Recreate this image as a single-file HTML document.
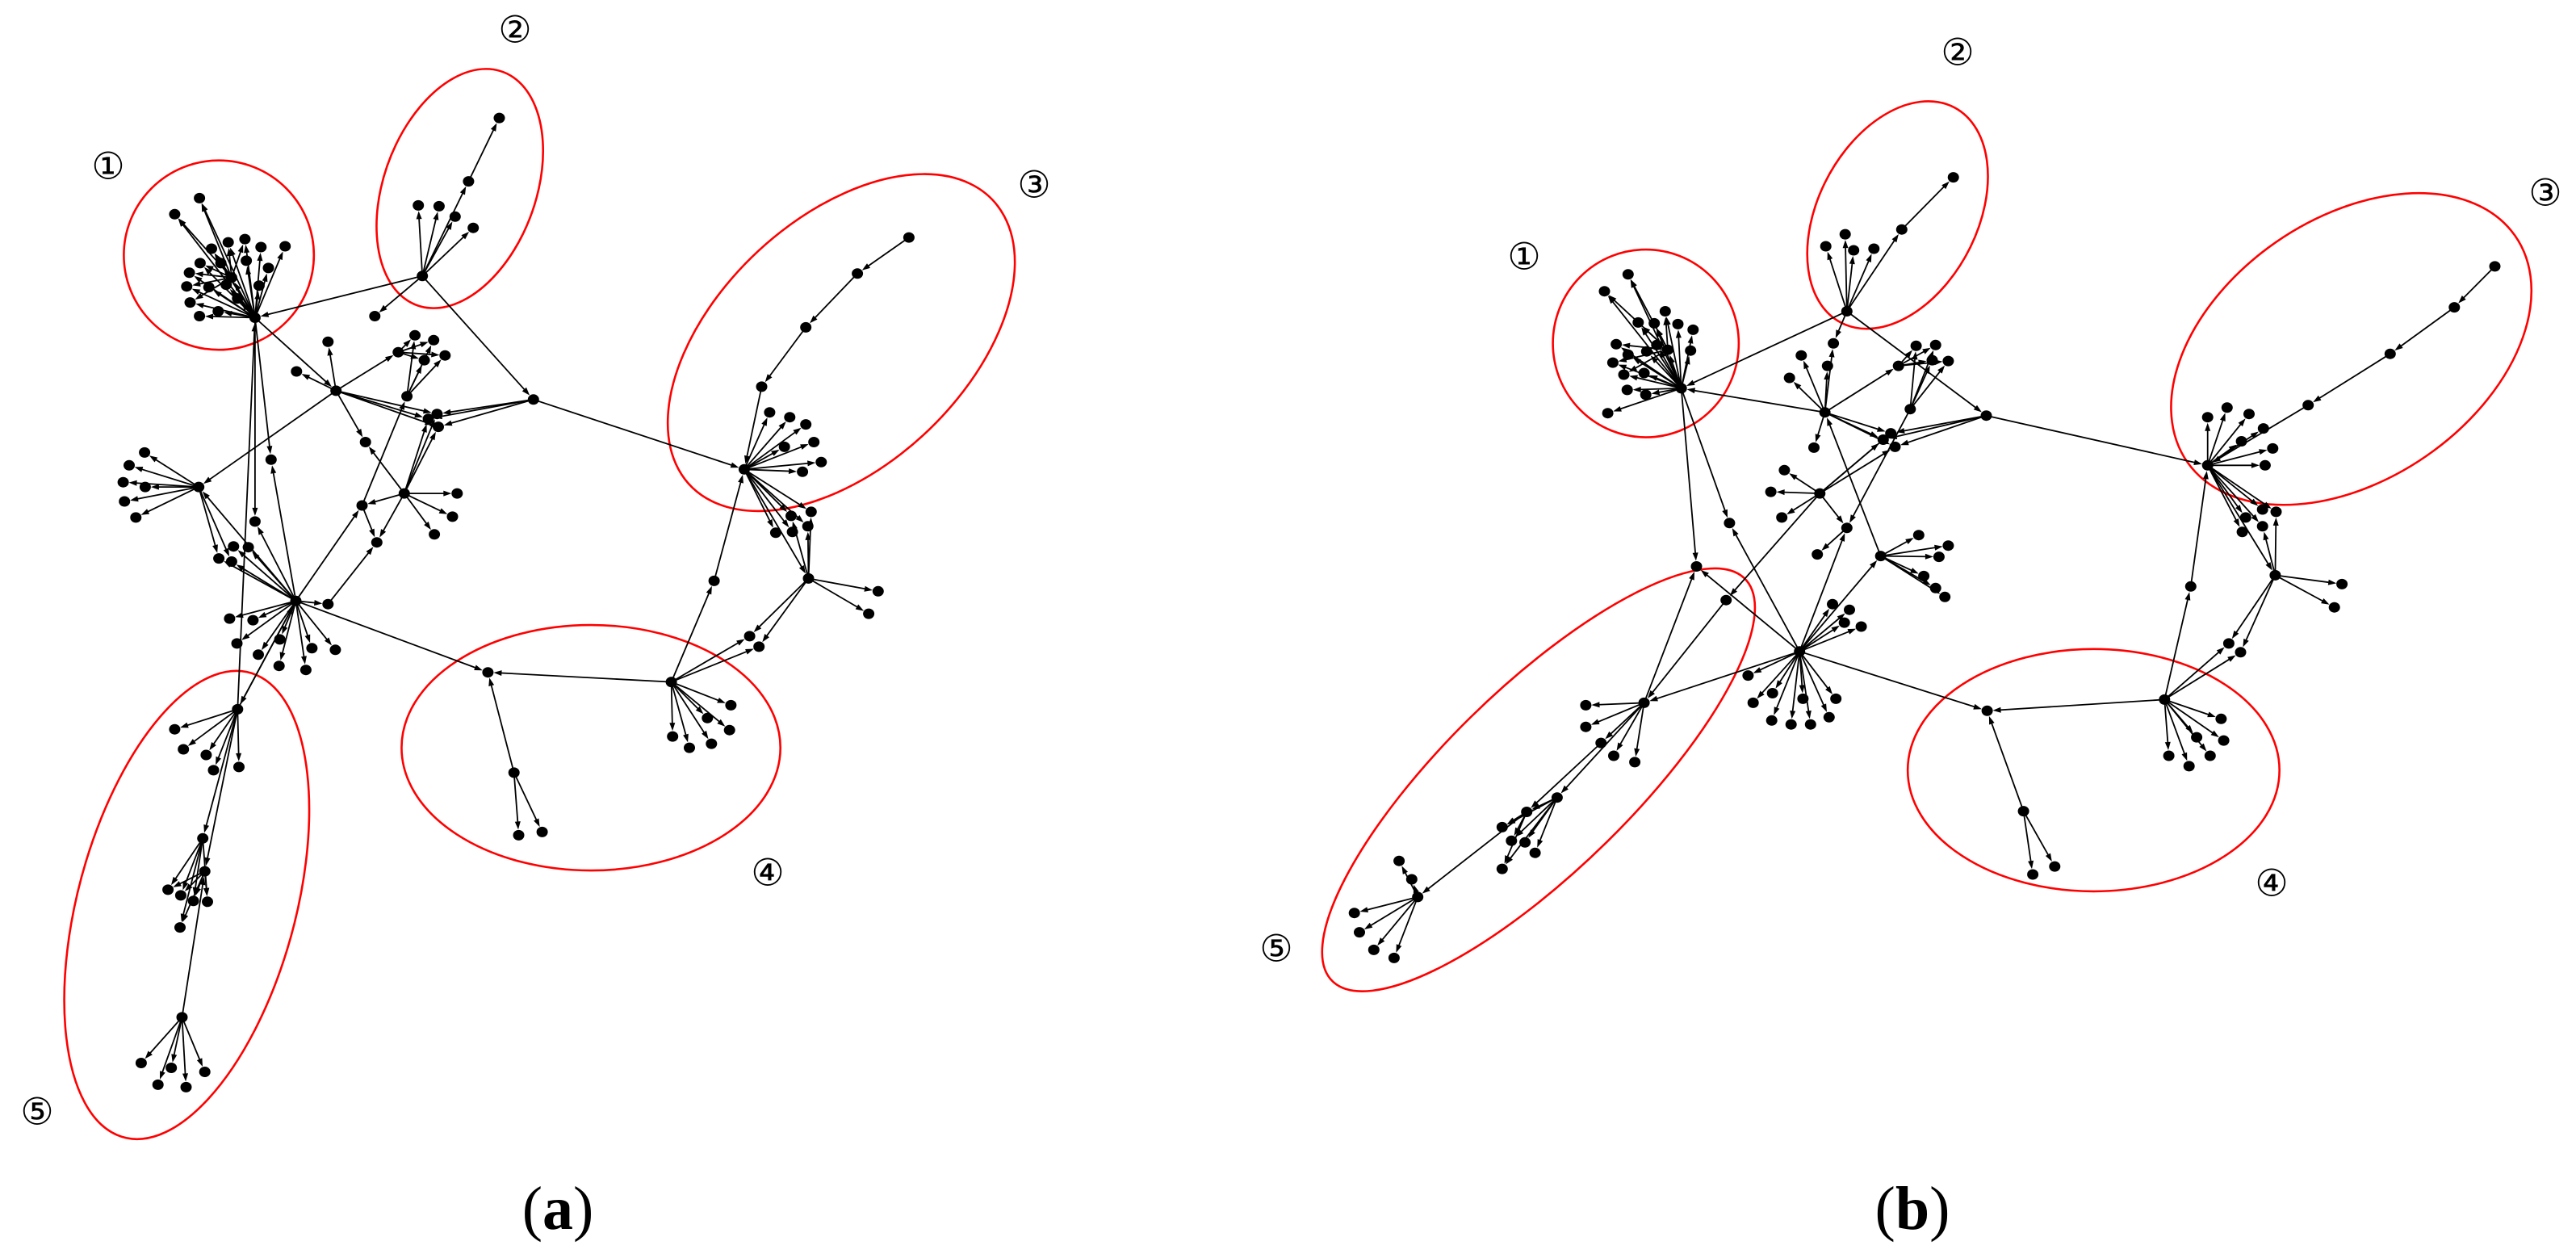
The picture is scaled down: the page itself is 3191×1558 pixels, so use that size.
<!DOCTYPE html>
<html><head><meta charset="utf-8"><style>
html,body{margin:0;padding:0;background:#fff;}
svg{display:block;}
.lab{font-family:"DejaVu Sans","Liberation Sans",sans-serif;font-size:46px;fill:#000;}
.cap{font-family:"Liberation Serif",serif;font-size:76px;fill:#000;}
</style></head><body>
<svg id="s" width="3191" height="1558" viewBox="0 0 3191 1558" xmlns="http://www.w3.org/2000/svg">
<rect width="3191" height="1558" fill="#fff"/>
<g id="ell" fill="none" stroke="#f00" stroke-width="2.6"></g>
<g id="edg" stroke="#000" stroke-width="1.8" fill="#000"></g>
<g id="nod" fill="#000"></g>
<text class="lab" x="134" y="209" text-anchor="middle" dominant-baseline="middle">①</text>
<text class="lab" x="638" y="40" text-anchor="middle" dominant-baseline="middle">②</text>
<text class="lab" x="1281" y="232" text-anchor="middle" dominant-baseline="middle">③</text>
<text class="lab" x="951" y="1084" text-anchor="middle" dominant-baseline="middle">④</text>
<text class="lab" x="46" y="1380" text-anchor="middle" dominant-baseline="middle">⑤</text>
<text class="lab" x="1888" y="321" text-anchor="middle" dominant-baseline="middle">①</text>
<text class="lab" x="2425" y="68" text-anchor="middle" dominant-baseline="middle">②</text>
<text class="lab" x="3153" y="242" text-anchor="middle" dominant-baseline="middle">③</text>
<text class="lab" x="2814" y="1097" text-anchor="middle" dominant-baseline="middle">④</text>
<text class="lab" x="1581" y="1178" text-anchor="middle" dominant-baseline="middle">⑤</text>
<text class="cap" x="691" y="1522" text-anchor="middle">(<tspan font-weight="bold">a</tspan>)</text>
<text class="cap" x="2369" y="1522" text-anchor="middle">(<tspan font-weight="bold">b</tspan>)</text>
</svg>
<script>
var NS="http://www.w3.org/2000/svg";
function el(p,t,a){var e=document.createElementNS(NS,t);for(var k in a)e.setAttribute(k,a[k]);(typeof p=="string"?document.getElementById(p):p).appendChild(e);return e;}
var panels=[
{ox:0,sx:1300/1568,sy:1558/1568,
ells:[[327,318,142,118,0],[687,235,110,160,30],[1257,427,290,165,-33],[883,932,283,153,0],[279,1128,160,305,20]],
stars:[
[[381,396],[[298,247],[261,267],[316,310],[341,302],[366,298],[390,308],[426,307],[330,328],[299,328],[368,325],[401,334],[283,340],[279,357],[312,358],[338,355],[387,356],[284,377],[326,388],[298,394],[355,372],[346,346]]],
[[346,346],[[298,247],[261,267],[316,310],[283,340],[279,357],[284,377],[299,328],[341,302],[366,298]]],
[[631,344],[[625,256],[656,257],[680,270],[707,284],[700,226],[381,396],[797,498],[560,394]]],
[[700,226],[[746,147]]],
[[797,498],[[1112,585],[640,522],[653,516],[655,532]]],
[[1358,296],[[1281,341]]],[[1281,341],[[1204,408]]],[[1204,408],[[1138,482]]],[[1138,482],[[1112,585]]],
[[1112,585],[[1150,514],[1180,520],[1204,529],[1216,551],[1172,557],[1227,576],[1199,588],[1182,643],[1212,638],[1207,656],[1184,663],[1159,664],[1208,721]]],
[[1208,721],[[1312,737],[1298,765],[1134,806],[1120,793],[1182,643],[1207,656],[1212,638]]],
[[1003,850],[[1005,918],[1030,932],[1063,927],[1090,910],[1092,879],[1057,895],[1067,724],[729,838],[1134,806],[1120,793]]],
[[1067,724],[[1112,585]]],
[[768,963],[[729,838],[775,1041],[810,1037]]],
[[442,749],[[729,838],[343,771],[378,773],[354,802],[386,816],[417,830],[457,835],[466,808],[501,810],[418,797],[297,607],[327,696],[346,700],[349,681],[371,682],[541,630],[381,650],[405,573],[355,884],[490,753]]],
[[381,396],[[502,487],[381,650],[405,573]]],
[[502,487],[[490,426],[443,463],[546,551],[595,439],[297,607],[640,522],[653,516],[655,532]]],
[[595,439],[[620,418],[648,424],[665,443],[634,449]]],
[[608,494],[[620,418],[648,424],[634,449],[665,443]]],
[[604,615],[[683,615],[676,644],[649,666],[541,630],[563,676],[640,522],[653,516],[655,532],[546,551]]],
[[541,630],[[608,494],[563,676]]],
[[490,753],[[563,676]]],
[[297,607],[[216,564],[193,580],[184,601],[217,607],[186,625],[203,645],[327,696],[346,700]]],
[[355,884],[[261,909],[274,934],[308,941],[319,960],[357,956],[303,1045],[306,1086],[381,396],[442,749]]],
[[303,1045],[[251,1109],[270,1116],[289,1123],[310,1124],[269,1156]]],
[[306,1086],[[251,1109],[270,1116],[289,1123],[310,1124],[269,1156]]],
[[272,1268],[[211,1325],[236,1352],[256,1331],[278,1355],[306,1336],[306,1086]]]
]},
{ox:1550,sx:1641/1568,sy:1558/1568,
ells:[[467,428,110,117,0],[765,268,95,150,25],[1302,435,240,160,-38],[997,960,220,151,0],[340,972,350,112,-46]],
stars:[
[[509,484],[[446,342],[418,363],[458,402],[477,403],[490,388],[505,404],[523,411],[520,437],[432,429],[446,442],[468,438],[428,452],[441,467],[465,465],[445,486],[467,492],[422,515],[480,430],[493,436],[527,706],[566,652]]],
[[493,436],[[446,342],[418,363],[458,402],[477,403],[490,388],[432,429],[428,452],[441,467]]],
[[705,388],[[680,307],[703,292],[713,312],[737,310],[770,286],[509,484],[689,428],[870,518]]],
[[770,286],[[831,221]]],
[[870,518],[[1132,580],[757,540],[748,548],[762,557]]],
[[1472,332],[[1424,383]]],[[1424,383],[[1348,441]]],[[1348,441],[[1251,505]]],[[1251,505],[[1132,580]]],
[[1132,580],[[1132,520],[1155,508],[1181,516],[1198,534],[1172,550],[1209,559],[1200,580],[1177,645],[1197,635],[1213,638],[1197,656],[1173,663],[1212,717]]],
[[1212,717],[[1291,728],[1282,757],[1157,802],[1171,813],[1213,638],[1197,656]]],
[[1081,872],[[1086,942],[1110,955],[1135,942],[1151,923],[1148,896],[1119,919],[1112,731],[871,886],[1157,802],[1171,813]]],
[[1112,731],[[1132,580]]],
[[914,1011],[[871,886],[925,1090],[951,1080]]],
[[649,812],[[871,886],[588,842],[594,876],[617,864],[616,898],[639,903],[653,871],[662,903],[684,894],[692,871],[688,753],[702,776],[708,760],[722,781],[745,693],[705,658],[527,706],[566,652],[465,876]]],
[[745,693],[[790,667],[825,680],[814,694],[796,718],[810,733],[821,744],[679,514]]],
[[679,514],[[651,443],[637,471],[689,428],[682,456],[666,558],[757,540],[748,548],[762,557],[766,456],[509,484]]],
[[766,456],[[787,431],[810,430],[806,449],[825,450]]],
[[780,510],[[787,431],[810,430],[806,449],[825,450],[705,658]]],
[[673,615],[[631,586],[615,613],[628,645],[757,540],[748,548],[762,557],[562,748],[705,658]]],
[[705,658],[[670,691]]],
[[562,748],[[465,876]]],
[[465,876],[[396,879],[396,906],[429,942],[454,950],[414,926],[527,706],[362,994]]],
[[414,926],[[326,1012]]],
[[362,994],[[297,1031],[326,1012],[308,1048],[324,1050],[336,1063],[297,1083]]],
[[326,1012],[[297,1031],[308,1048],[297,1083],[197,1118]]],
[[197,1118],[[175,1073],[190,1096],[122,1138],[128,1162],[145,1184],[169,1194]]]
]}];
panels.forEach(function(P){
 function T(p){return [P.ox+p[0]*P.sx,p[1]*P.sy];}
 var g=el("ell","g",{transform:"translate("+P.ox+",0) scale("+P.sx+","+P.sy+")"});
 P.ells.forEach(function(e){
  el(g,"ellipse",{cx:e[0],cy:e[1],rx:e[2],ry:e[3],transform:"rotate("+e[4]+" "+e[0]+" "+e[1]+")","vector-effect":"non-scaling-stroke"});});
 var nodes={};
 P.stars.forEach(function(s){
  var a=T(s[0]);nodes[s[0].join()]=a;
  s[1].forEach(function(q){var b=T(q);nodes[q.join()]=b;
   var dx=b[0]-a[0],dy=b[1]-a[1],L=Math.sqrt(dx*dx+dy*dy);if(L<1)return;
   var ux=dx/L,uy=dy/L,r=7;
   var tx=b[0]-ux*r,ty=b[1]-uy*r;
   el("edg","line",{x1:a[0].toFixed(1),y1:a[1].toFixed(1),x2:(tx-ux*6).toFixed(1),y2:(ty-uy*6).toFixed(1)});
   var bx=tx-ux*10,by=ty-uy*10,px=-uy*3.5,py=ux*3.5;
   el("edg","polygon",{points:tx.toFixed(1)+","+ty.toFixed(1)+" "+(bx+px).toFixed(1)+","+(by+py).toFixed(1)+" "+(bx-px).toFixed(1)+","+(by-py).toFixed(1),stroke:"none"});
  });
 });
 for(var k in nodes){var n=nodes[k];el("nod","ellipse",{cx:n[0].toFixed(1),cy:n[1].toFixed(1),rx:7,ry:6.5});}
});
</script>
</body></html>
